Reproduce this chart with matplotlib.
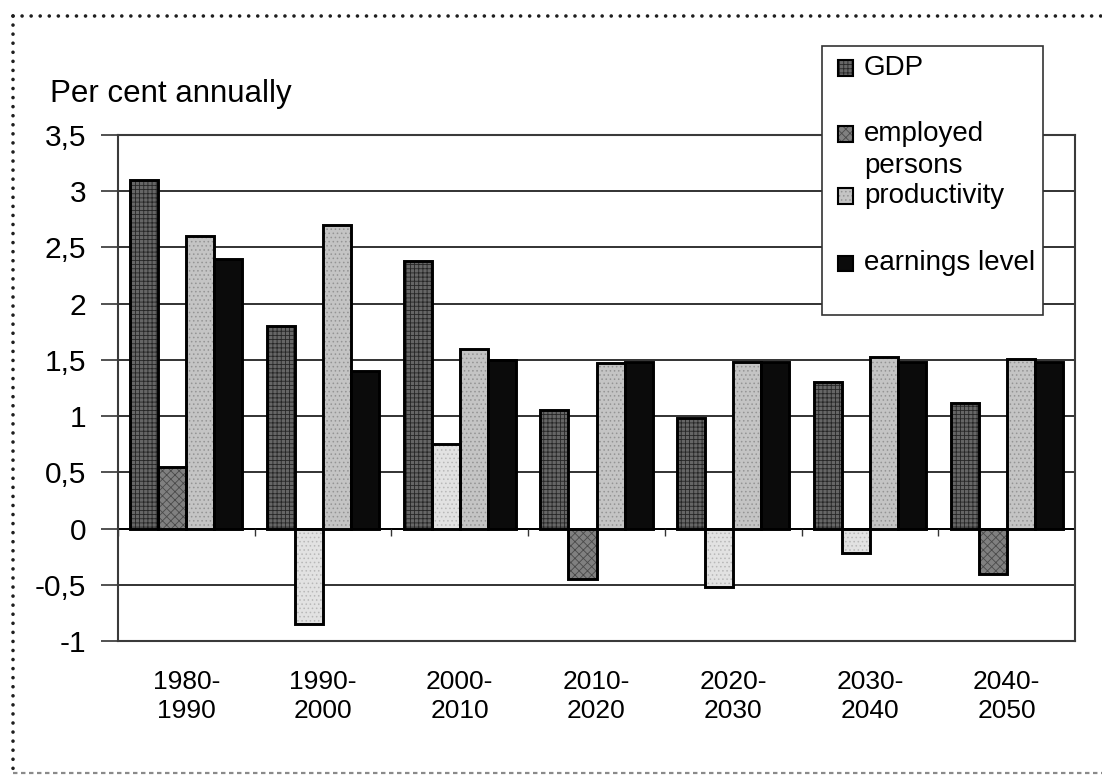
import matplotlib
matplotlib.use("Agg")
import matplotlib.pyplot as plt
from matplotlib.patches import Rectangle
from matplotlib.lines import Line2D
import numpy as np

# Average annual growth, per cent, by decade
periods = ["1980-\n1990", "1990-\n2000", "2000-\n2010", "2010-\n2020",
           "2020-\n2030", "2030-\n2040", "2040-\n2050"]
gdp = [3.1, 1.8, 2.38, 1.05, 0.98, 1.3, 1.12]
employed = [0.55, -0.85, 0.75, -0.45, -0.52, -0.22, -0.4]
productivity = [2.6, 2.7, 1.6, 1.47, 1.48, 1.53, 1.51]
earnings = [2.4, 1.4, 1.5, 1.48, 1.48, 1.48, 1.48]
series_names = ["GDP", "employed\npersons", "productivity", "earnings level"]
y_ticks = [-1, -0.5, 0, 0.5, 1, 1.5, 2, 2.5, 3, 3.5]
y_title = "Per cent annually"

plt.rcParams['font.family'] = ['Liberation Sans', 'DejaVu Sans']
plt.rcParams['hatch.linewidth'] = 0.6

W, H = 1102, 778
fig = plt.figure(figsize=(W / 100, H / 100), dpi=100)


def fx(px):
    return px / W


def fy(py):
    return 1 - py / H


ax = fig.add_axes([fx(118), fy(641), fx(1075) - fx(118), fy(135) - fy(641)])

x = np.arange(len(periods))
width = 0.205
offsets = (np.arange(4) - 1.5) * width

# fill styles: (face, hatch, hatch colour)
gdp_style = ("#666666", "++++", "#262626")
emp_dark = ("#808080", "xxxx", "#4a4a4a")
emp_light = ("#e2e2e2", "....", "#b8b8b8")
prod_style = ("#c4c4c4", "....", "#949494")
earn_style = ("#0b0b0b", None, "#0b0b0b")

emp_styles = [emp_dark, emp_light, emp_light, emp_dark, emp_light, emp_light, emp_dark]


def draw_series(pos, values, styles):
    for p, v, (face, hatch, hcol) in zip(pos, values, styles):
        ax.bar(p, v, width, color=face, hatch=hatch, edgecolor=hcol,
               linewidth=0, zorder=2)
    ax.bar(pos, values, width, fill=False, edgecolor="black",
           linewidth=2.1, zorder=3)


draw_series(x + offsets[0], gdp, [gdp_style] * len(x))
draw_series(x + offsets[1], employed, emp_styles)
draw_series(x + offsets[2], productivity, [prod_style] * len(x))
draw_series(x + offsets[3], earnings, [earn_style] * len(x))

ax.set_xlim(-0.5, len(x) - 0.5)
ax.set_ylim(-1, 3.5)
ax.set_yticks(y_ticks)
ax.set_yticklabels([f"{t:g}".replace(".", ",") for t in y_ticks])
ax.tick_params(axis="y", direction="out", length=12, width=1.2, color="#333333",
               labelsize=21.5, pad=11)
ax.grid(axis="y", color="#222222", linewidth=1.3, zorder=0)
ax.set_axisbelow(True)
ax.axhline(0, color="black", linewidth=1.4, zorder=1)
ax.vlines(np.arange(len(x) + 1) - 0.5, 0, -0.065, color="#333333",
          linewidth=1, zorder=1)

ax.set_xticks(x)
ax.set_xticklabels(periods, fontsize=19, linespacing=1.25)
ax.tick_params(axis="x", length=0, pad=21)
for s in ax.spines.values():
    s.set_color("#3a3a3a")
    s.set_linewidth(1.5)

fig.text(fx(50), fy(102), y_title, fontsize=22.5, va="baseline", ha="left")

# legend box
fig.add_artist(Rectangle((fx(822), fy(315)), fx(1043) - fx(822), fy(46) - fy(315),
                         transform=fig.transFigure, facecolor="white",
                         edgecolor="#333333", linewidth=1.2, zorder=10))
row_y = [68, 134, 196, 263]
legend_styles = [gdp_style, emp_dark, prod_style, earn_style]
sq = 15
for name, ry, (face, hatch, hcol) in zip(series_names, row_y, legend_styles):
    r = Rectangle((fx(838), fy(ry + sq / 2)), sq / W, sq / H,
                  transform=fig.transFigure, facecolor=face, hatch=hatch,
                  edgecolor=hcol, linewidth=0, zorder=11)
    fig.add_artist(r)
    fig.add_artist(Rectangle((fx(838), fy(ry + sq / 2)), sq / W, sq / H,
                             transform=fig.transFigure, fill=False,
                             edgecolor="black", linewidth=1.5, zorder=12))
    for i, line in enumerate(name.split("\n")):
        fig.text(fx(864), fy(ry + 32 * i), line, fontsize=20, va="center",
                 ha="left", zorder=13)

# dotted page frame
dot = dict(color="#1e1e1e", linewidth=2.6, linestyle=(0, (0.01, 2.5)),
           dash_capstyle="round", transform=fig.transFigure, zorder=20)
fig.add_artist(Line2D([fx(13), 1], [fy(16), fy(16)], **dot))
fig.add_artist(Line2D([fx(13), fx(13)], [fy(16), fy(772)], **dot))
fig.add_artist(Line2D([fx(13), 1], [fy(773), fy(773)],
                      **{**dot, "color": "#8a8a8a", "linewidth": 1.6,
                         "linestyle": (0, (2.0, 1.6)), "dash_capstyle": "butt"}))

fig.savefig("out.png", dpi=100, facecolor="white")
